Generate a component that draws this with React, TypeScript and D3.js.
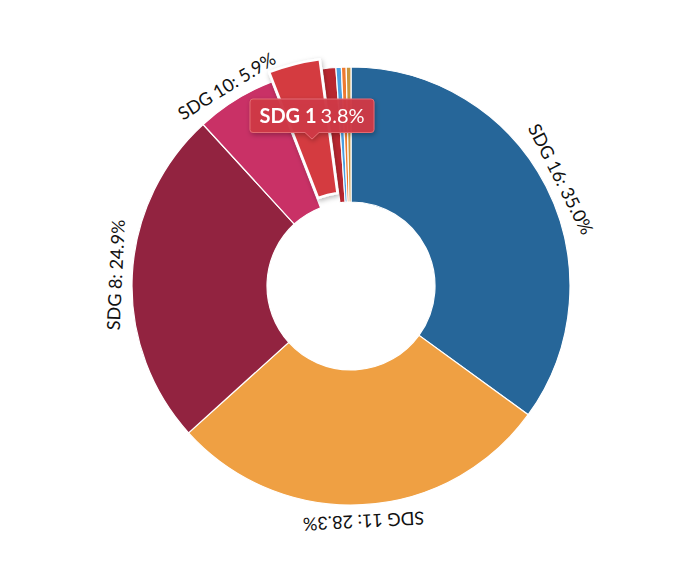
import * as d3 from "d3";

const categories = ["SDG 16", "SDG 11", "SDG 8", "SDG 10", "SDG 1", "SDG 4", "SDG 6", "SDG 9", "SDG 12"];
const shares = [35.0, 28.3, 24.9, 5.9, 3.8, 1.0, 0.4, 0.35, 0.35];
const colors = ["#266699", "#efa043", "#922340", "#c93166", "#d43a41", "#b8262f", "#4a9fe0", "#ee7a30", "#c9963c"];
const hovered = "SDG 1";

const width = 700;
const height = 580;
const cx = 351;
const cy = 286;
const outerR = 219;
const innerR = 84;
const explode = 10;

interface Slice {
  name: string;
  value: number;
  color: string;
}

const slices: Slice[] = categories.map((name, i) => ({ name, value: shares[i], color: colors[i] }));

export default function App() {
  const pie = d3
    .pie<Slice>()
    .sort(null)
    .value((d) => d.value)
    .startAngle(0)
    .endAngle(2 * Math.PI);
  const arcs = pie(slices);
  const arc = d3.arc<d3.PieArcDatum<Slice>>().innerRadius(innerR).outerRadius(outerR);

  const font = "Lato, 'Open Sans', sans-serif";

  // tooltip anchor sits near the hovered slice
  const hov = arcs.find((a) => a.data.name === hovered)!;
  const tipX = 312;
  const tipY = 139;

  return (
    <svg
      width={width}
      height={height}
      style={{ position: "absolute", left: 0, top: 0, background: "#fff" }}
    >
      <defs>
        <filter id="shadow" x="-30%" y="-30%" width="160%" height="160%">
          <feDropShadow dx="1" dy="2" stdDeviation="2.5" floodColor="#000" floodOpacity="0.28" />
        </filter>
      </defs>
      <g transform={`translate(${cx},${cy})`}>
        {arcs
          .filter((a) => a.data.name !== hovered)
          .map((a) => (
            <path key={a.data.name} d={arc(a) ?? ""} fill={a.data.color} stroke="#fff" strokeWidth={1.2} />
          ))}
        {(() => {
          const mid = (hov.startAngle + hov.endAngle) / 2;
          const dx = Math.sin(mid) * explode;
          const dy = -Math.cos(mid) * explode;
          return (
            <path
              d={arc(hov) ?? ""}
              transform={`translate(${dx},${dy})`}
              fill={hov.data.color}
              stroke="#fff"
              strokeWidth={2.5}
              strokeLinejoin="round"
              filter="url(#shadow)"
            />
          );
        })()}
        {arcs
          .filter((a) => a.data.value >= 5)
          .map((a) => {
            const mid = ((a.startAngle + a.endAngle) / 2) * (180 / Math.PI);
            return (
              <text
                key={"l" + a.data.name}
                transform={`rotate(${mid})`}
                x={0}
                y={-(outerR + 10)}
                textAnchor="middle"
                fontFamily={font}
                fontSize={18}
                fill="#111"
              >
                {`${a.data.name}: ${a.data.value.toFixed(1)}%`}
              </text>
            );
          })}
      </g>
      <g transform={`translate(${tipX},${tipY})`} filter="url(#shadow)">
        <path
          d="M0,0 L-7,-6.5 L-59,-6.5 Q-62,-6.5 -62,-9.5 L-62,-37 Q-62,-40 -59,-40 L59,-40 Q62,-40 62,-37 L62,-9.5 Q62,-6.5 59,-6.5 L7,-6.5 Z"
          fill="#cf3a46"
          fillOpacity={0.96}
          stroke="#e26a72"
          strokeWidth={1}
        />
        <text x={0} y={-16} textAnchor="middle" fontFamily={font} fontSize={20} fill="#fff">
          <tspan fontWeight="bold">{hov.data.name}</tspan>
          <tspan dx={4}>{`${hov.data.value.toFixed(1)}%`}</tspan>
        </text>
      </g>
    </svg>
  );
}
